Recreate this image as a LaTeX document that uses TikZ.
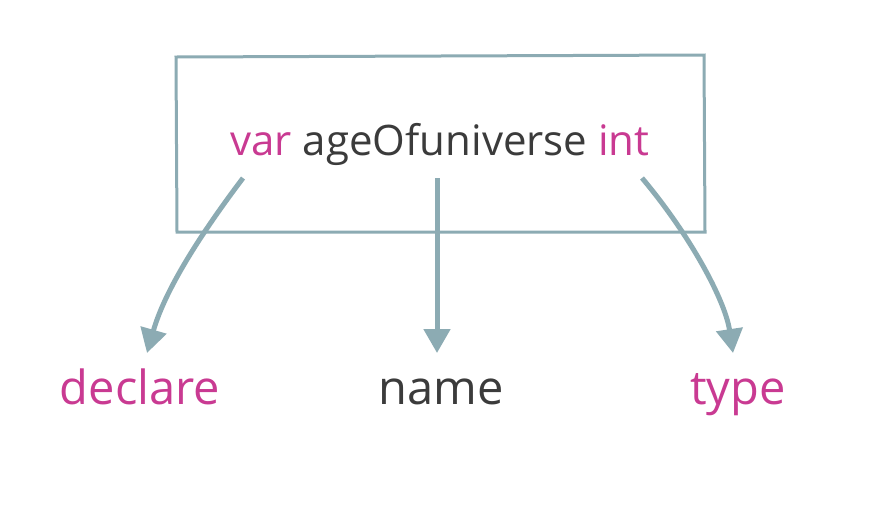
\documentclass[tikz,border=0pt]{standalone}
\usepackage{fontspec}
\setmainfont{Open Sans}
\usetikzlibrary{arrows.meta}
\definecolor{boxc}{HTML}{8CABB3}
\definecolor{mag}{HTML}{C93A92}
\definecolor{ink}{HTML}{3B3B3B}
\tikzset{
  frame/.style={draw=boxc, line width=3pt},
  pointer/.style={draw=boxc, line width=5pt, -{Triangle[length=24pt,width=26pt]}},
  code/.style={font=\fontsize{42}{46}\selectfont, text=ink, inner sep=0pt, anchor=base},
  label/.style={font=\fontsize{47}{52}\selectfont, inner sep=0pt, anchor=base},
}
\begin{document}
\begin{tikzpicture}[x=1pt,y=-1pt]
\useasboundingbox (0,0) rectangle (880,528);
\fill[white] (0,0) rectangle (880,528);
\draw[frame] (176,57) -- (704,55) -- (705,232) -- (177,232) -- cycle;
\node[code] (code) at (440,155) {\textcolor{mag}{var} ageOfuniverse \textcolor{mag}{int}};
\coordinate (s1) at (243,178);
\coordinate (s2) at (437,178);
\coordinate (s3) at (642,178);
\node[label, text=mag] (declare) at (140,404) {declare};
\node[label, text=ink] (name) at (441,404) {name};
\node[label, text=mag] (type) at (738,404) {type};
\coordinate (t1) at (147,353);
\coordinate (t2) at (437,353);
\coordinate (t3) at (733,353);
\draw[pointer] (s1) .. controls (200,235) and (165,290) .. (t1);
\draw[pointer] (s2) -- (t2);
\draw[pointer] (s3) .. controls (690,235) and (725,300) .. (t3);
\end{tikzpicture}
\end{document}
